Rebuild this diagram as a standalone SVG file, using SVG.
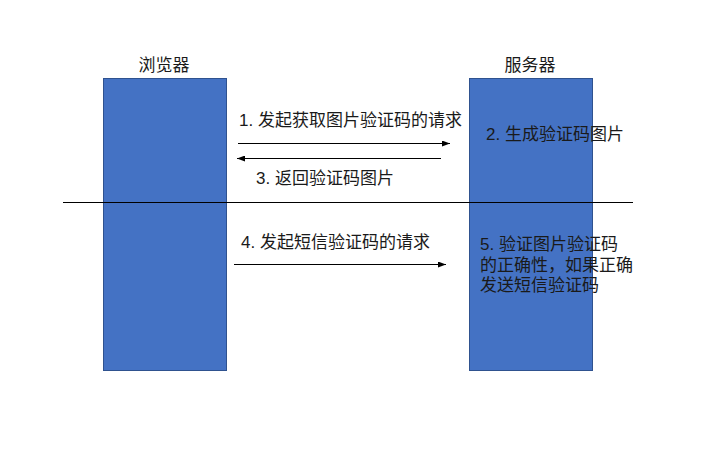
<svg xmlns="http://www.w3.org/2000/svg" width="714" height="450" viewBox="0 0 714 450">
<style>
.box{fill:#4472C4;stroke:#2F528F;stroke-width:1}
.t{font-family:"Liberation Sans","Noto Sans CJK SC",sans-serif;font-size:17px;fill:#1a1a1a}
.c{text-anchor:middle}
.ln{stroke:#000;stroke-width:1;fill:none}
</style>
<defs>
<marker id="ah" markerWidth="8" markerHeight="6" refX="8" refY="3" orient="auto" markerUnits="userSpaceOnUse">
<path d="M0,0 L8,3 L0,6 Z" fill="#000"/>
</marker>
</defs>
<rect width="714" height="450" fill="#fff"/>
<g id="browser">
<rect class="box" x="103.5" y="78.5" width="123" height="292"/>
<text class="t c" x="164" y="71">浏览器</text>
</g>
<g id="server">
<rect class="box" x="469.5" y="78.5" width="123" height="292"/>
<text class="t c" x="530" y="71">服务器</text>
</g>
<g id="connectors">
<line class="ln" x1="63" y1="202.5" x2="633" y2="202.5"/>
<line class="ln" x1="238" y1="143.5" x2="450" y2="143.5" marker-end="url(#ah)"/>
<line class="ln" x1="441" y1="158.5" x2="237" y2="158.5" marker-end="url(#ah)"/>
<line class="ln" x1="234" y1="264.5" x2="446" y2="264.5" marker-end="url(#ah)"/>
</g>
<g id="labels">
<text class="t" x="239" y="126">1. 发起获取图片验证码的请求</text>
<text class="t" x="486" y="140">2. 生成验证码图片</text>
<text class="t" x="256" y="184">3. 返回验证码图片</text>
<text class="t" x="241" y="248">4. 发起短信验证码的请求</text>
<text class="t" x="480" y="250">5. 验证图片验证码</text>
<text class="t" x="480" y="271">的正确性，如果正确</text>
<text class="t" x="480" y="291">发送短信验证码</text>
</g>
</svg>
